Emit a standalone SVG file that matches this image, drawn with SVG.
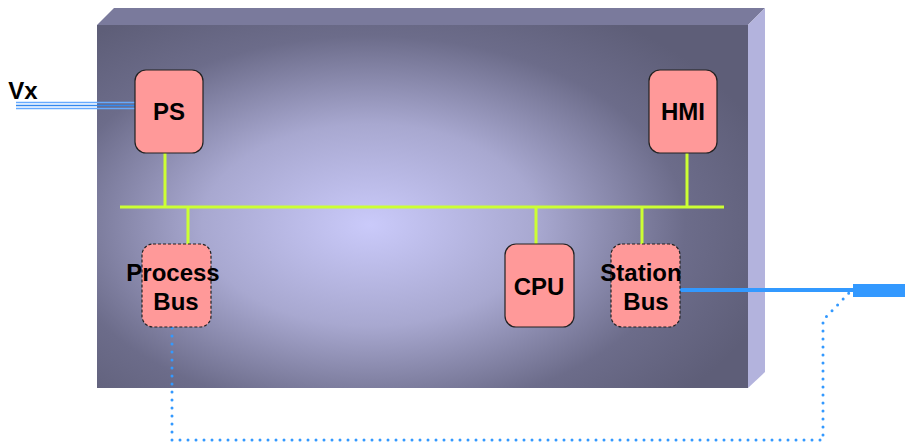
<svg xmlns="http://www.w3.org/2000/svg" width="905" height="443" viewBox="0 0 905 443">
<defs>
<radialGradient id="face" cx="370" cy="225" r="420" gradientUnits="userSpaceOnUse" gradientTransform="translate(370 225) scale(1 0.6) translate(-370 -225)">
<stop offset="0" stop-color="#cacafa"/>
<stop offset="0.4" stop-color="#a8a8d0"/>
<stop offset="0.75" stop-color="#6c6c8a"/>
<stop offset="1" stop-color="#5e5e78"/>
</radialGradient>
</defs>
<style>
.node{fill:#ff9999;stroke:#222;stroke-width:1.2}
.dash{stroke-dasharray:3 2}
.lbl{font-family:"Liberation Sans",Arial,sans-serif;font-weight:bold;font-size:24px;fill:#000;text-anchor:middle}
.bus{stroke:#ccff33;stroke-width:3;fill:none}
</style>
<g id="chassis">
<polygon points="97,25 114,8 765,8 748,25" fill="#7a7a9c"/>
<polygon points="748,25 765,8 765,372 748,388" fill="#b3b3dd"/>
<rect x="97" y="25" width="651" height="363" fill="url(#face)"/>
</g>
<g id="connectors">
<line class="bus" x1="120" y1="207" x2="724" y2="207"/>
<line class="bus" x1="165" y1="153" x2="165" y2="207"/>
<line class="bus" x1="687" y1="153" x2="687" y2="207"/>
<line class="bus" x1="188" y1="207" x2="188" y2="244"/>
<line class="bus" x1="536" y1="207" x2="536" y2="244"/>
<line class="bus" x1="642" y1="207" x2="642" y2="244"/>
<g stroke-width="1.3" fill="none">
<line x1="16" y1="102.5" x2="135" y2="102.5" stroke="#66aaff"/>
<line x1="16" y1="105.5" x2="135" y2="105.5" stroke="#3388ee"/>
<line x1="16" y1="108.5" x2="135" y2="108.5" stroke="#66aaff"/>
</g>
<line x1="680" y1="290" x2="855" y2="290" stroke="#3399ff" stroke-width="4"/>
<rect x="853" y="284" width="52" height="13" fill="#3399ff"/>
<path d="M172,328 V440 H823 V320 L850,292" fill="none" stroke="#3399ff" stroke-width="3" stroke-linecap="round" stroke-dasharray="0 8"/>
</g>
<g id="vx"><text class="lbl" x="23" y="99">Vx</text></g>
<g id="ps"><rect class="node" x="135" y="70" width="68" height="83" rx="11"/><text class="lbl" x="169" y="120">PS</text></g>
<g id="hmi"><rect class="node" x="649" y="70" width="68" height="83" rx="11"/><text class="lbl" x="683" y="120">HMI</text></g>
<g id="process-bus"><rect class="node dash" x="142" y="244" width="69" height="83" rx="11"/><text class="lbl" x="173" y="281">Process</text><text class="lbl" x="176" y="310">Bus</text></g>
<g id="cpu"><rect class="node" x="505" y="244" width="69" height="83" rx="11"/><text class="lbl" x="539" y="295">CPU</text></g>
<g id="station-bus"><rect class="node dash" x="611" y="244" width="69" height="83" rx="11"/><text class="lbl" x="641" y="281">Station</text><text class="lbl" x="646" y="310">Bus</text></g>
</svg>
